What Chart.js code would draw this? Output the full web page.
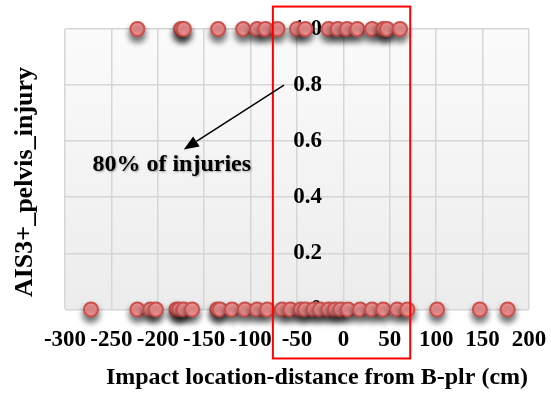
<!DOCTYPE html>
<html>
<head>
<meta charset="utf-8">
<script src="https://cdn.jsdelivr.net/npm/chart.js@4/dist/chart.umd.min.js"></script>
<style>
  html, body { margin: 0; padding: 0; background: #fff; }
  #wrap { width: 551px; height: 393px; }
</style>
</head>
<body>
<div id="wrap"><canvas id="injuryChart"></canvas></div>
<script>
// Impact location (cm from B-pillar) for cases with AIS3+ pelvis injury (1) and without (0)
const injuredX = [-222, -175, -172, -135, -108, -93, -84, -71, -50, -41, -16, -6, 4, 15, 31, 43, 47, 61];
const uninjuredX = [-272, -222, -208, -202, -180, -177, -172, -163, -136, -133, -120, -106, -93, -82,
  -66, -57, -46, -41, -32, -25, -16, -9, -3, 5, 18, 31, 43, 58, 69, 101, 147, 177];

const xTicks = [-300, -250, -200, -150, -100, -50, 0, 50, 100, 150, 200];
const yTicks = [0, 0.2, 0.4, 0.6, 0.8, 1];

// B-pillar zone box and the note pointing at it
const zoneX = [-76, 72];
const zoneY = [-0.175, 1.08];
const arrowFrom = { x: -64, y: 0.8 };
const arrowTo = { x: -172, y: 0.57 };
const noteAt = { x: -185, y: 0.515 };
const noteText = '80% of injuries';

const FONT = "'Liberation Serif', 'Times New Roman', serif";
Chart.defaults.font.family = FONT;
Chart.defaults.color = '#000';

const points = [
  ...injuredX.map(v => ({ x: v, y: 1 })),
  ...uninjuredX.map(v => ({ x: v, y: 0 }))
];

// light gradient behind the plot
const plotBackground = {
  id: 'plotBackground',
  beforeDraw(chart) {
    const { ctx, chartArea: a } = chart;
    const g = ctx.createLinearGradient(0, a.top, 0, a.bottom);
    g.addColorStop(0, '#fbfbfb');
    g.addColorStop(1, '#ececec');
    ctx.save();
    ctx.fillStyle = g;
    ctx.fillRect(a.left, a.top, a.right - a.left, a.bottom - a.top);
    ctx.restore();
  }
};

// soft drop shadow under the markers
const markerShadow = {
  id: 'markerShadow',
  beforeDatasetsDraw(chart) {
    const ctx = chart.ctx;
    ctx.save();
    ctx.shadowColor = 'rgba(0,0,0,0.6)';
    ctx.shadowBlur = 6;
    ctx.shadowOffsetY = 5;
  },
  afterDatasetsDraw(chart) {
    chart.ctx.restore();
  }
};

// axis titles, highlight box and arrow note
const overlay = {
  id: 'overlay',
  afterDraw(chart) {
    const { ctx, scales: { x, y } } = chart;
    ctx.save();

    ctx.fillStyle = '#000';
    ctx.font = 'bold 24px ' + FONT;
    ctx.textAlign = 'center';
    ctx.textBaseline = 'middle';
    ctx.fillText('Impact location-distance from B-plr (cm)', 317, 378);
    ctx.save();
    ctx.translate(25, 182);
    ctx.rotate(-Math.PI / 2);
    ctx.font = 'bold 26px ' + FONT;
    ctx.fillText('AIS3+_pelvis_injury', 0, 0);
    ctx.restore();

    ctx.strokeStyle = '#ff0000';
    ctx.lineWidth = 2;
    const l = x.getPixelForValue(zoneX[0]), r = x.getPixelForValue(zoneX[1]);
    const t = y.getPixelForValue(zoneY[1]), b = y.getPixelForValue(zoneY[0]);
    ctx.strokeRect(l, t, r - l, b - t);

    const x1 = x.getPixelForValue(arrowFrom.x), y1 = y.getPixelForValue(arrowFrom.y);
    const x2 = x.getPixelForValue(arrowTo.x), y2 = y.getPixelForValue(arrowTo.y);
    const ang = Math.atan2(y2 - y1, x2 - x1);
    const head = 15, half = 6;
    const bx = x2 - head * Math.cos(ang), by = y2 - head * Math.sin(ang);
    ctx.strokeStyle = '#000';
    ctx.lineWidth = 1.5;
    ctx.beginPath();
    ctx.moveTo(x1, y1);
    ctx.lineTo(bx, by);
    ctx.stroke();
    ctx.beginPath();
    ctx.moveTo(x2, y2);
    ctx.lineTo(bx + half * Math.sin(ang), by - half * Math.cos(ang));
    ctx.lineTo(bx - half * Math.sin(ang), by + half * Math.cos(ang));
    ctx.closePath();
    ctx.fill();

    ctx.shadowColor = 'rgba(0,0,0,0.35)';
    ctx.shadowBlur = 2;
    ctx.shadowOffsetX = 1;
    ctx.shadowOffsetY = 1;
    ctx.font = 'bold 24px ' + FONT;
    ctx.fillText(noteText, x.getPixelForValue(noteAt.x), y.getPixelForValue(noteAt.y));
    ctx.restore();
  }
};

// keep tick-label overhang from shrinking the plot area
const noSidePadding = s => { s.paddingLeft = 0; s.paddingRight = 0; };
const noEndPadding = s => { s.paddingTop = 0; s.paddingBottom = 0; };

new Chart(document.getElementById('injuryChart'), {
  type: 'scatter',
  data: {
    datasets: [{
      data: points,
      pointRadius: 7,
      pointBorderWidth: 2,
      pointBackgroundColor: '#ff9a9a',
      pointBorderColor: '#c9504d',
      clip: false
    }]
  },
  options: {
    responsive: true,
    maintainAspectRatio: false,
    animation: false,
    layout: { padding: { left: 65, right: 22, top: 29, bottom: 22 } },
    plugins: { legend: { display: false }, tooltip: { enabled: false } },
    scales: {
      x: {
        type: 'linear',
        min: -300, max: 200,
        afterBuildTicks: s => { s.ticks = xTicks.map(v => ({ value: v })); },
        afterFit: noSidePadding,
        grid: { color: '#d6d6d6', lineWidth: 1.5, drawTicks: false },
        border: { display: false },
        ticks: { font: { size: 23, weight: 'bold' }, padding: 17, autoSkip: false, maxRotation: 0 }
      },
      y: {
        type: 'linear',
        position: { x: 0 },
        min: 0, max: 1,
        afterBuildTicks: s => { s.ticks = yTicks.map(v => ({ value: v })); },
        afterFit: noEndPadding,
        grid: { color: '#d6d6d6', lineWidth: 1.5, drawTicks: false },
        border: { display: false },
        ticks: { display: false }
      },
      yLabels: {
        type: 'linear',
        axis: 'y',
        // labels sit just left of the x = 0 line
        position: { x: -23 },
        z: 1,
        min: 0, max: 1,
        afterBuildTicks: s => { s.ticks = yTicks.map(v => ({ value: v })); },
        afterFit: noEndPadding,
        grid: { display: false, drawTicks: false },
        border: { display: false },
        ticks: { font: { size: 23, weight: 'bold' } }
      }
    }
  },
  plugins: [plotBackground, markerShadow, overlay]
});
</script>
</body>
</html>
